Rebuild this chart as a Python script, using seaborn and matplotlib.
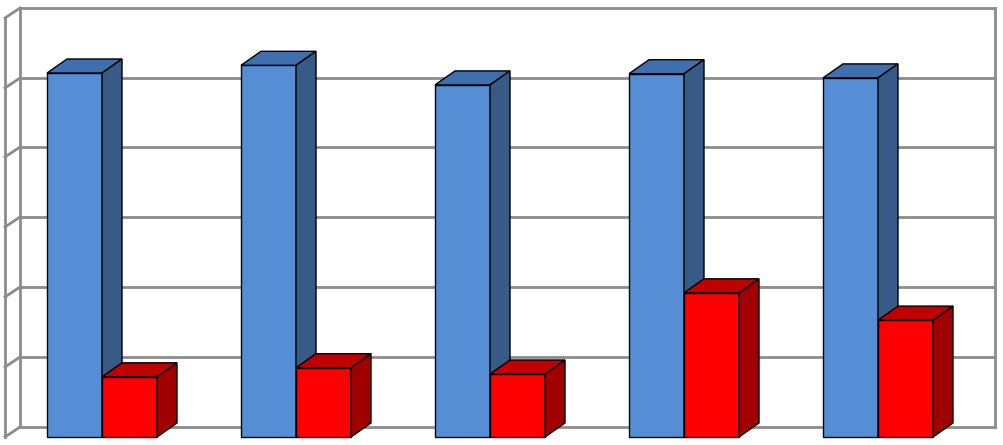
import matplotlib
matplotlib.use("Agg")
import matplotlib.pyplot as plt
from matplotlib.patches import Polygon
import seaborn as sns
import pandas as pd

categories = ["1", "2", "3", "4", "5"]
series_a = [5.20, 5.31, 5.03, 5.19, 5.13]
series_b = [0.86, 0.99, 0.90, 2.06, 1.67]

df = pd.DataFrame({
    "cat": categories * 2,
    "val": series_a + series_b,
    "series": ["A"] * 5 + ["B"] * 5,
})

W, H = 1004, 445
fig = plt.figure(figsize=(W / 100, H / 100), dpi=100)
ax = fig.add_axes([0, 0, 1, 1])
ax.set_axis_off()

# pixel -> data helpers
ux = 194.0   # px per category
uy = 70.0    # px per unit
x0px, y0px = 102, 437
def px(x): return (x - x0px) / ux
def py(y): return (y0px - y) / uy

ax.set_xlim(px(0), px(W))
ax.set_ylim(py(H), py(0))

# back wall and left wall grid
grid_c = "#8c8c8c"
for gy in [8, 78, 147, 217, 287, 357, 427]:
    ax.plot([px(20), px(995)], [py(gy), py(gy)], color=grid_c, lw=2, zorder=0)
    ax.plot([px(5), px(20)], [py(gy + 10), py(gy)], color=grid_c, lw=2, zorder=0)
ax.plot([px(20), px(20)], [py(8), py(427)], color=grid_c, lw=2, zorder=0)
ax.plot([px(5), px(5)], [py(18), py(437)], color=grid_c, lw=2, zorder=0)
ax.plot([px(995), px(995)], [py(8), py(427)], color=grid_c, lw=2, zorder=0)

sns.barplot(data=df, x="cat", y="val", hue="series",
            palette={"A": "#558ED5", "B": "#FF0000"},
            width=55 * 2 / ux, dodge=True, legend=False, ax=ax,
            edgecolor="black", linewidth=1, saturation=1)
ax.set_xlim(px(0), px(W))
ax.set_ylim(py(H), py(0))
ax.set_axis_off()

dx, dy = 20 / ux, 14 / uy
faces = {"A": ("#3F6FAE", "#375A86"), "B": ("#C00000", "#A00000")}
bars = list(ax.patches)
for i, p in enumerate(bars):
    key = "A" if i < 5 else "B"
    z = 2 if key == "A" else 3
    p.set_zorder(z)
    x, w, h = p.get_x(), p.get_width(), p.get_height()
    top = [(x, h), (x + dx, h + dy), (x + w + dx, h + dy), (x + w, h)]
    side = [(x + w, 0), (x + w, h), (x + w + dx, h + dy), (x + w + dx, dy)]
    ax.add_patch(Polygon(top, closed=True, fc=faces[key][0], ec="black", lw=1, zorder=z + 0.1))
    ax.add_patch(Polygon(side, closed=True, fc=faces[key][1], ec="black", lw=1, zorder=z + 0.1))

fig.savefig("out.png", dpi=100, facecolor="white")
